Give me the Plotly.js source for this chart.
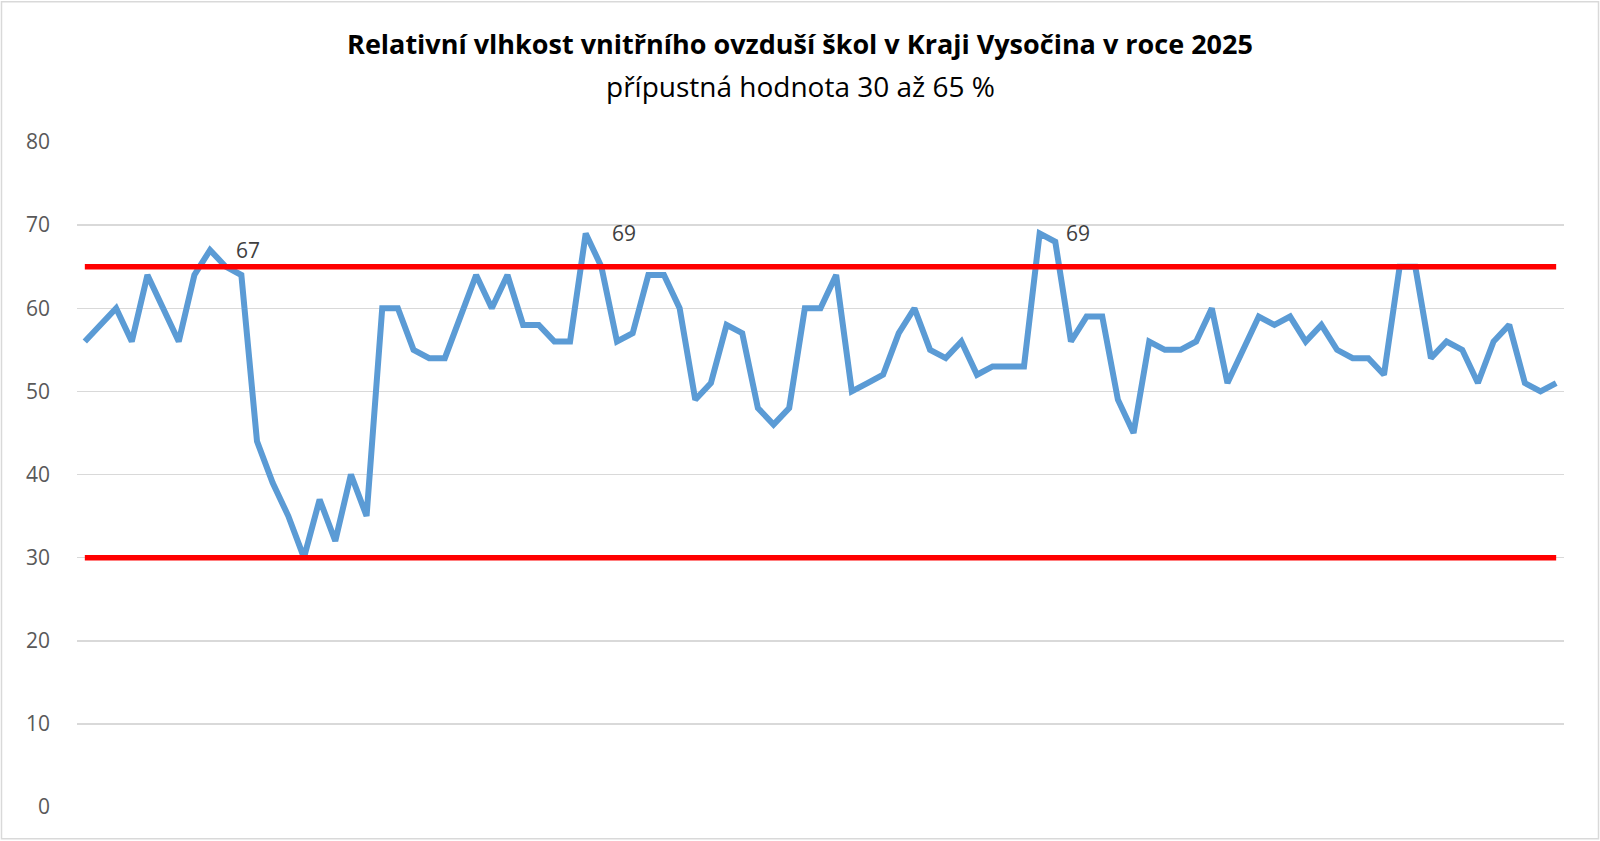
<!DOCTYPE html>
<html>
<head>
<meta charset="utf-8">
<script src="https://cdn.plot.ly/plotly-3.0.1.min.js"></script>
<style>
  html, body { margin: 0; padding: 0; background: #fff; }
  #humidityChart { width: 1600px; height: 841px; }
</style>
</head>
<body>
<div id="humidityChart"></div>
<script>
// Measured relative humidity (%) per school, in chart order
const humidity = [
    56, 58, 60, 56, 64, 60, 56, 64, 67, 65,
    64, 44, 39, 35, 30, 37, 32, 40, 35, 60,
    60, 55, 54, 54, 59, 64, 60, 64, 58, 58,
    56, 56, 69, 65, 56, 57, 64, 64, 60, 49,
    51, 58, 57, 48, 46, 48, 60, 60, 64, 50,
    51, 52, 57, 60, 55, 54, 56, 52, 53, 53,
    53, 69, 68, 56, 59, 59, 49, 45, 56, 55,
    55, 56, 60, 51, 55, 59, 58, 59, 56, 58,
    55, 54, 54, 52, 65, 65, 54, 56, 55, 51,
    56, 58, 51, 50, 51
];

// Permitted range limits
const upperLimit = 65;
const lowerLimit = 30;

// Points that carry a data label
const labelIdx = [8, 32, 61];

const categories = humidity.map((_, i) => i + 1);

const traceHumidity = {
    x: categories,
    y: humidity,
    type: 'scatter',
    mode: 'lines',
    line: { color: '#5B9BD5', width: 6 },
    hoverinfo: 'y',
};

const traceUpper = {
    x: categories,
    y: categories.map(() => upperLimit),
    type: 'scatter',
    mode: 'lines',
    line: { color: '#FF0000', width: 5.5 },
    hoverinfo: 'y',
};

const traceLower = {
    x: categories,
    y: categories.map(() => lowerLimit),
    type: 'scatter',
    mode: 'lines',
    line: { color: '#FF0000', width: 5.5 },
    hoverinfo: 'y',
};

const data = [traceHumidity, traceUpper, traceLower];

// Data labels to the right of the chosen points
const labels = labelIdx.map(i => ({
    x: categories[i],
    y: humidity[i],
    xref: 'x',
    yref: 'y',
    text: String(humidity[i]),
    showarrow: false,
    xanchor: 'left',
    yanchor: 'middle',
    xshift: 24,
    font: { family: 'Open Sans, sans-serif', size: 21, color: '#404040' },
}));

// Subtitle under the bold title
labels.push({
    text: 'přípustná hodnota 30 až 65 %',
    xref: 'paper',
    yref: 'paper',
    x: (800 - 77) / 1487,
    y: (806.7 - 86) / 664.9,
    xanchor: 'center',
    yanchor: 'middle',
    showarrow: false,
    font: { family: 'Open Sans, sans-serif', size: 28, color: '#000000' },
});

const layout = {
    width: 1600,
    height: 841,
    title: {
        text: '<b>Relativní vlhkost vnitřního ovzduší škol v Kraji Vysočina v roce 2025</b>',
        font: { family: 'Open Sans, sans-serif', size: 27, color: '#000000' },
        x: 0.5,
        xanchor: 'center',
        xref: 'container',
        yref: 'container',
        y: 1 - 45 / 841,
        yanchor: 'middle',
    },
    showlegend: false,
    xaxis: {
        range: [0.5, humidity.length + 0.5],
        showticklabels: false,
        showgrid: false,
        zeroline: false,
        ticks: '',
        fixedrange: true,
    },
    yaxis: {
        range: [0, 80],
        dtick: 10,
        tick0: 0,
        showgrid: true,
        gridcolor: '#D9D9D9',
        gridwidth: 1.5,
        zeroline: false,
        showline: false,
        ticks: '',
        ticklabelstandoff: 26,
        tickfont: { family: 'Open Sans, sans-serif', size: 21, color: '#595959' },
        fixedrange: true,
    },
    shapes: [
        {
            type: 'rect',
            xref: 'paper',
            yref: 'paper',
            x0: (1.5 - 77) / 1487,
            x1: (1598.5 - 77) / 1487,
            y0: (806.7 - 838.5) / 664.9,
            y1: (806.7 - 1.5) / 664.9,
            line: { color: '#D9D9D9', width: 1.5 },
            layer: 'below',
        },
    ],
    annotations: labels,
    margin: { t: 142, l: 77, r: 36, b: 34 },
    paper_bgcolor: '#FFFFFF',
    plot_bgcolor: '#FFFFFF',
};

Plotly.newPlot('humidityChart', data, layout, { displayModeBar: false, staticPlot: true });
</script>
</body>
</html>
